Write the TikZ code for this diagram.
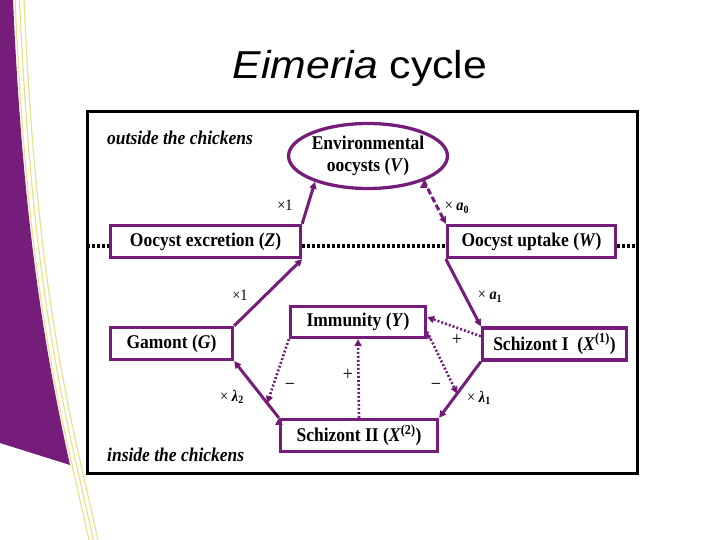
\documentclass[tikz,border=0pt]{standalone}
\usepackage{fontspec}
\setmainfont[FakeStretch=0.9]{Liberation Serif}
\newfontfamily\titlefont[FakeStretch=1.1]{Liberation Sans}
\usepackage{tikz}
\usetikzlibrary{arrows.meta, shapes.geometric, calc}
\definecolor{eimpurple}{RGB}{118,28,122}
\definecolor{ribbon}{RGB}{232,226,140}

\begin{document}
\begin{tikzpicture}[x=1bp, y=-1bp]
\tikzstyle{stage}=[draw=eimpurple, line width=3.3bp, fill=white, inner sep=0pt, minimum height=32bp, font=\fontsize{19.5}{22}\selectfont\bfseries]
\tikzstyle{flow}=[draw=eimpurple, line width=3bp, -{Triangle[length=7bp, width=7bp]}]
\tikzstyle{effect}=[flow, line width=2.6bp, dash pattern=on 2bp off 2bp]
\tikzstyle{rate}=[inner sep=0pt, font=\fontsize{16}{18}\selectfont]
\tikzstyle{sign}=[inner sep=0pt, font=\fontsize{20}{22}\selectfont]
\tikzstyle{region}=[inner sep=0pt, anchor=west, font=\fontsize{19.5}{22}\selectfont\bfseries\itshape]
\tikzstyle{border}=[black, line width=4bp, dash pattern=on 3bp off 2bp]

\useasboundingbox (0,0) rectangle (720,540);

% slide background
\fill[eimpurple] (0,0) -- (13,0) .. controls (22,200) and (40,330) .. (70,465) -- (0,443) -- cycle;
\foreach \d in {0,4.5,9}
  \draw[ribbon, line width=1.2bp] (15+\d,0) .. controls (24+\d,200) and (41+\d,330) .. (72+\d,465) -- (89+\d,540);

\node[anchor=base, font=\titlefont\fontsize{39}{44}\selectfont] (title) at (360,79) {\textit{Eimeria} cycle};

\draw[line width=3bp] (87,112) rectangle (637,473);

\node[stage, ellipse, minimum width=157bp, minimum height=65bp, align=center] (env) at (368,156) {Environmental\\oocysts (\textit{V})};
\node[stage, minimum width=190bp] (exc) at (205.5,241.5) {Oocyst excretion (\textit{Z})};
\node[stage, minimum width=168bp] (upt) at (531.5,241.5) {Oocyst uptake (\textit{W})};
\node[stage, minimum width=135bp, minimum height=31bp] (imm) at (358,322) {Immunity (\textit{Y})};
\node[stage, minimum width=122bp] (gam) at (171.5,343.5) {Gamont (\textit{G})};
\node[stage, minimum width=144bp] (schI) at (554.5,344) {Schizont I\ \ (\textit{X}\textsuperscript{(1)})};
\node[stage, minimum width=157bp] (schII) at (359,435.5) {Schizont II (\textit{X}\textsuperscript{(2)})};

% outside / inside divider
\coordinate (outL) at (87,246);
\coordinate (outR) at (637,246);
\path[border]
(outL) edge (exc.west |- outL)
(exc.east |- outL) edge (upt.west |- outL)
(upt.east |- outL) edge (outR);

\node[region] (outside) at (107,138) {outside the chickens};
\node[region] (inside) at (107,455) {inside the chickens};

% life cycle
\path[flow]
(exc.north east) edge (env.206)
(gam.north east) edge (exc.south east)
(upt.south west) edge (schI.north west)
(schI.south west) edge (schII.north east)
(schII.north west) edge (gam.south east);
\path[flow, dash pattern=on 6bp off 3bp]
(env.-24) edge (upt.north west);

% immune effects
\coordinate (m2) at ($(schII.north west)!0.26!(gam.south east)$);
\coordinate (m1) at ($(schI.south west)!0.57!(schII.north east)$);
\path[effect]
(imm.south west) edge (m2)
(schII.north) edge (imm.south)
(schI.174.6) edge (imm.4)
(imm.-8) edge (m1);

\node[rate] (r1) at (285,205) {×1};
\node[rate] (r2) at (457,208) {× \textbf{\textit{a}}\textsubscript{\textbf{0}}};
\node[rate] (r3) at (240,295) {×1};
\node[rate] (r4) at (490,297) {× \textbf{\textit{a}}\textsubscript{\textbf{1}}};
\node[rate] (r5) at (479,398) {× \textbf{\textit{λ}}\textsubscript{\textbf{1}}};
\node[rate] (r6) at (232,397) {× \textbf{\textit{λ}}\textsubscript{\textbf{2}}};
\node[sign] (s1) at (290,387) {−};
\node[sign] (s2) at (348,375) {+};
\node[sign] (s3) at (457,340) {+};
\node[sign] (s4) at (436,387) {−};

\end{tikzpicture}
\end{document}
